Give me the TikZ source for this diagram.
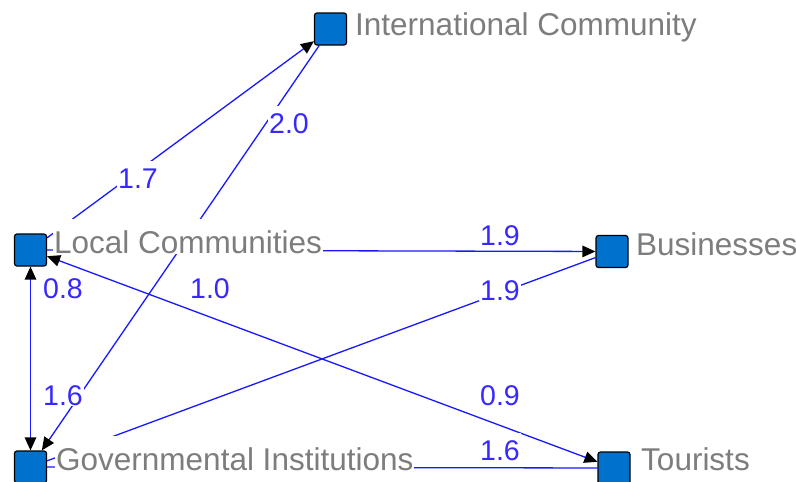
\documentclass[tikz,border=0pt]{standalone}
\usepackage{fontspec}
\setmainfont{Liberation Sans}
\usetikzlibrary{arrows.meta}
\pgfdeclarelayer{edges}
\pgfsetlayers{edges,main}
\definecolor{sqblue}{RGB}{0,114,206}
\definecolor{edgeblue}{RGB}{25,25,255}
\definecolor{wtblue}{RGB}{55,40,255}
\definecolor{namegray}{RGB}{125,125,125}

\begin{document}
\begin{tikzpicture}[x=1pt,y=-1pt,
  actor/.style={draw=black, line width=1.2pt, fill=sqblue, rounded corners=2.5pt,
    minimum size=32pt, inner sep=0pt},
  actorname/.style={fill=white, text=namegray, font=\fontsize{31.5}{32}\selectfont,
    inner xsep=1pt, inner ysep=0.5pt, text height=34pt, text depth=0pt, anchor=base west},
  weight/.style={fill=white, text=wtblue, font=\fontsize{28.5}{29}\selectfont,
    inner xsep=1.5pt, inner ysep=1pt, text height=26pt, text depth=0pt, anchor=base},
  tie/.style={draw=edgeblue, line width=1.3pt},
  >={Triangle[length=13pt,width=11.5pt,color=black,fill=black]},
]
\useasboundingbox (0,0) rectangle (796,482);

% actors
\node[actor] (IC) at (330.5,29) {};
\node[actor] (LC) at (30.5,250) {};
\node[actor] (BU) at (612,251.5) {};
\node[actor] (GI) at (30.5,467) {};
\node[actor] (TO) at (614,468) {};

% actor names
\node[actorname] (ICname) at (354,35) {International Community};
\node[actorname] (LCname) at (53,253) {Local Communities};
\node[actorname] (BUname) at (635,255) {Businesses};
\node[actorname] (GIname) at (55,470) {Governmental Institutions};
\node[actorname] (TOname) at (640,470) {Tourists};

% tie weights
\node[weight] (w1) at (138,188) {1.7};
\node[weight] (w2) at (289,133) {2.0};
\node[weight] (w3) at (500,245) {1.9};
\node[weight] (w4) at (500,300) {1.9};
\node[weight] (w5) at (63,298) {0.8};
\node[weight] (w6) at (210,298) {1.0};
\node[weight] (w7) at (63,405) {1.6};
\node[weight] (w8) at (500,405) {0.9};
\node[weight] (w9) at (500,460) {1.6};

% ties, drawn beneath names and weights
\begin{pgfonlayer}{edges}
\fill[white] (0,0) rectangle (796,482);
\draw[tie,->] (LC) -- (IC);
\draw[tie,->] (IC) -- (GI);
\draw[tie,->] (LC) -- (BU);
\draw[tie] (GI) -- (BU);
\draw[tie,<->] (LC) -- (TO);
\draw[tie] (GI) -- (TO);
\draw[tie,<->] (LC) -- (GI);
\end{pgfonlayer}
\end{tikzpicture}
\end{document}
